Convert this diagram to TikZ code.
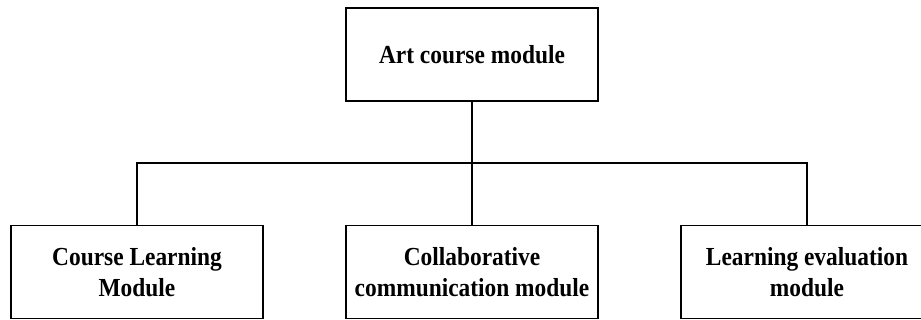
\documentclass[tikz,border=0pt]{standalone}
\usepackage{fontspec}
\setmainfont[FakeStretch=0.9]{Liberation Serif}
\begin{document}
\begin{tikzpicture}[x=1pt,y=-1pt,
  box/.style={draw=black, line width=1.3pt, minimum width=252pt, minimum height=93pt, inner sep=0pt, align=center, font=\fontsize{26}{31.5}\selectfont\bfseries},
  conn/.style={draw=black, line width=1.3pt}]
\useasboundingbox (0,0) rectangle (921,320);
\node[box] (top) at (472,54.5) {Art course module};
\node[box] (l) at (137,272) {Course Learning\\Module};
\node[box] (m) at (472,272) {Collaborative\\communication module};
\node[box] (r) at (807,272) {Learning evaluation\\module};
\coordinate (j) at (472,163);
\draw[conn] (top.south) -- (j);
\draw[conn] (l.north) |- (j) -| (r.north);
\draw[conn] (j) -- (m.north);
\end{tikzpicture}
\end{document}
